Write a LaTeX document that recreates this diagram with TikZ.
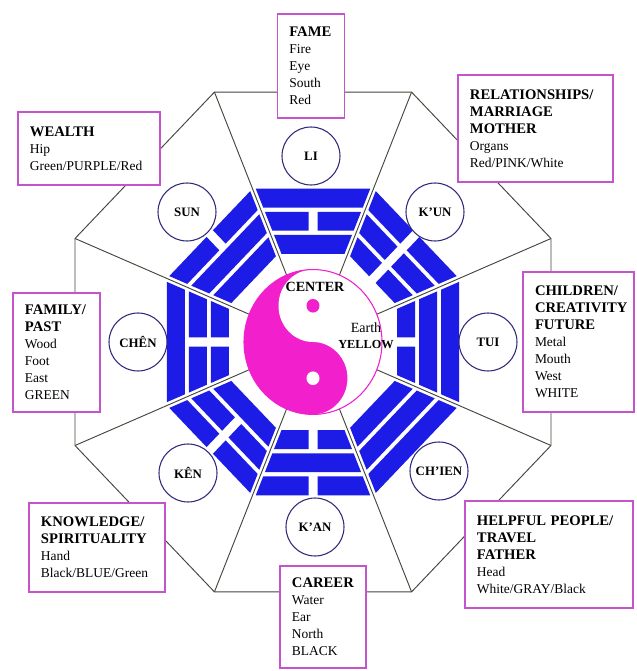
\documentclass[tikz,border=0pt]{standalone}
\usepackage{fontspec}
\setmainfont{Liberation Serif}
\usepackage{xcolor}
\usepackage{tikz}
\usetikzlibrary{positioning}

\definecolor{baguablue}{RGB}{28,28,230}
\definecolor{yypink}{RGB}{242,32,204}
\definecolor{boxline}{RGB}{196,84,204}
\definecolor{circline}{RGB}{48,40,120}
\definecolor{octgray}{RGB}{70,70,62}

\def\tgtan{0.41421}
\def\tgoff{3.25}
\def\tggap{4.5}
\newcommand{\ttl}[1]{\textbf{\fontsize{12.5}{14.5}\selectfont #1}}
% one line of a trigram: inner edge, outer edge, 1 = whole line, 0 = broken
\newcommand{\trigbar}[3]{%
  \ifnum#3=1\relax
    \fill[baguablue] ({-(#1*\tgtan-\tgoff)},#1) -- ({#1*\tgtan-\tgoff},#1)
      -- ({#2*\tgtan-\tgoff},#2) -- ({-(#2*\tgtan-\tgoff)},#2) -- cycle;
  \else
    \fill[baguablue] ({-(#1*\tgtan-\tgoff)},#1) -- (-\tggap,#1) -- (-\tggap,#2)
      -- ({-(#2*\tgtan-\tgoff)},#2) -- cycle;
    \fill[baguablue] (\tggap,#1) -- ({#1*\tgtan-\tgoff},#1) -- ({#2*\tgtan-\tgoff},#2)
      -- (\tggap,#2) -- cycle;
  \fi}

\tikzset{
  guabox/.style={draw=boxline, line width=1.1pt, fill=white, align=left,
    inner xsep=0.36cm, inner ysep=0pt, font=\fontsize{11.5}{14.5}\selectfont,
    execute at begin node={\hyphenpenalty=10000\relax}},
  namecirc/.style={circle, draw=circline, line width=0.9pt, fill=white,
    minimum size=1.74cm, inner sep=0pt, font=\bfseries\fontsize{11}{13}\selectfont},
  octline/.style={draw=octgray, line width=0.8pt},
}

\begin{document}
\begin{tikzpicture}[x=0.03cm,y=0.03cm]
  \useasboundingbox (-313,-329) rectangle (323,342);
  \fill[white] (-313,-329) rectangle (323,342);
  \begin{scope}[yscale=1.05]
    % octagon corners and the spokes
    \foreach \k in {0,...,7}{
      \coordinate (v\k) at ({22.5+45*\k}:257.6);
      \coordinate (r\k) at ({22.5+45*\k}:69);
    }
  \end{scope}
  \draw[octline] (v0) -- (v1) -- (v2) -- (v3) -- (v4) -- (v5) -- (v6) -- (v7) -- cycle;
  \foreach \k in {0,...,7} \draw[octline] (r\k) -- (v\k);

  \begin{scope}[yscale=1.05]
    % the eight trigrams, inner / middle / outer line
    \foreach \ang/\ia/\ib/\ic in {90/1/0/1, 45/0/0/0, 0/0/1/1, -45/1/1/1,
                                  -90/0/1/0, -135/1/0/0, 180/0/0/1, 135/1/1/0}{
      \begin{scope}[rotate=\ang-90]
        \trigbar{84}{102}{\ia}
        \trigbar{106}{124}{\ib}
        \trigbar{128}{146}{\ic}
      \end{scope}
    }
    % yin yang
    \fill[yypink] (0,0) circle[radius=69];
    \fill[white] (0,69) arc[start angle=90,end angle=-90,radius=69]
      arc[start angle=-90,end angle=90,radius=34.5]
      arc[start angle=-90,end angle=-270,radius=34.5] -- cycle;
    \draw[yypink,line width=0.9pt] (0,0) circle[radius=69];
    \fill[yypink] (0,34.5) circle[radius=6.5];
    \fill[white] (0,-34.5) circle[radius=6.5];
  \end{scope}
  \node[font=\bfseries\fontsize{12}{14}\selectfont] (centerlbl) at (2,55) {CENTER};
  \node[align=center,font=\fontsize{12}{14}\selectfont] (earthlbl) at (53,6)
    {Earth\\\textbf{\fontsize{10.5}{14}\selectfont YELLOW}};

  % trigram names
  \node[namecirc] (li)    at (-2,186)    {LI};
  \node[namecirc] (kun)   at (122,130)   {K’UN};
  \node[namecirc] (tui)   at (175,0)     {TUI};
  \node[namecirc] (chien) at (126,-129)  {CH’IEN};
  \node[namecirc] (kan)   at (2,-185)    {K’AN};
  \node[namecirc] (ken)   at (-125,-131) {KÊN};
  \node[namecirc] (chen)  at (-175,0)    {CHÊN};
  \node[namecirc] (sun)   at (-126,130)  {SUN};

  % life areas
  \node[guabox,text width=1.3cm,minimum height=3.12cm] (fame) at (-2,276)
    {\ttl{FAME}\\Fire\\Eye\\South\\Red};
  \node[guabox,text width=3.54cm,minimum height=2.19cm] (wealth) at (-224,193.5)
    {\ttl{WEALTH}\\Hip\\Green/PURPLE/Red};
  \node[guabox,text width=3.93cm,minimum height=3.21cm] (relation) at (222.5,213.5)
    {\ttl{RELATIONSHIPS/}\\\ttl{MARRIAGE}\\\ttl{MOTHER}\\Organs\\Red/PINK/White};
  \node[guabox,text width=1.89cm,minimum height=3.57cm] (family) at (-256.5,-10.5)
    {\ttl{FAMILY/}\\\ttl{PAST}\\Wood\\Foot\\East\\GREEN};
  \node[guabox,text width=2.61cm,minimum height=4.2cm] (children) at (265.5,0)
    {\ttl{CHILDREN/}\\\ttl{CREATIVITY}\\\ttl{FUTURE}\\Metal\\Mouth\\West\\WHITE};
  \node[guabox,text width=3.36cm,minimum height=2.67cm] (knowledge) at (-216,-205.5)
    {\ttl{KNOWLEDGE/}\\\ttl{SPIRITUALITY}\\Hand\\Black/BLUE/Green};
  \node[guabox,text width=4.32cm,minimum height=3.21cm] (helpful) at (236,-212.5)
    {\ttl{HELPFUL PEOPLE/}\\\ttl{TRAVEL}\\\ttl{FATHER}\\Head\\White/GRAY/Black};
  \node[guabox,text width=1.86cm,minimum height=3.06cm] (career) at (10,-275)
    {\ttl{CAREER}\\Water\\Ear\\North\\BLACK};
\end{tikzpicture}
\end{document}
